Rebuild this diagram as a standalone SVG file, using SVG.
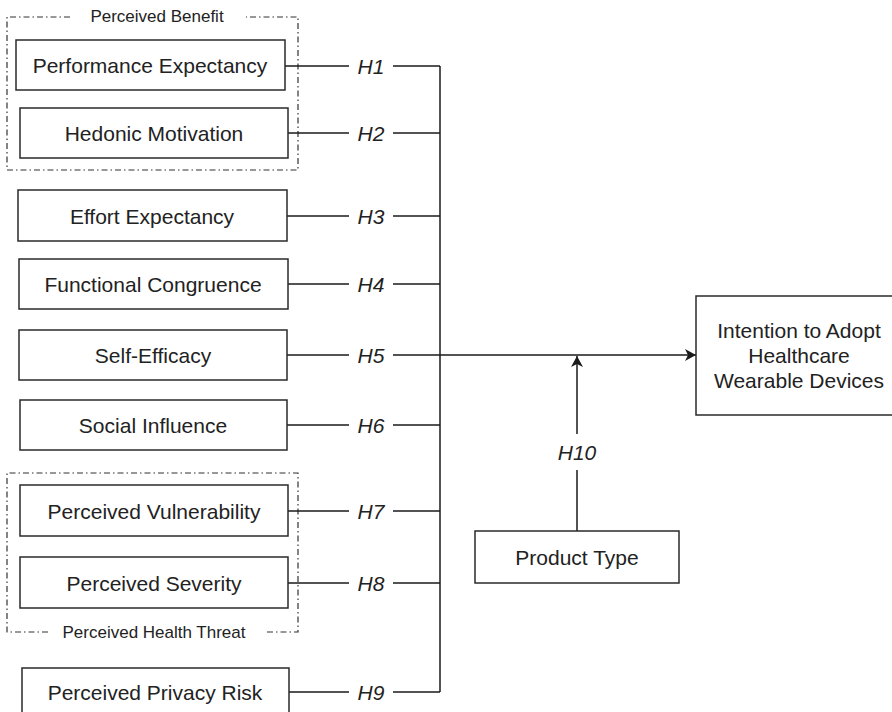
<svg xmlns="http://www.w3.org/2000/svg" width="892" height="712" viewBox="0 0 892 712">
<defs>
<style>
.box{fill:#fff;stroke:#2a2a2a;stroke-width:1.5}
.t{font-family:"Liberation Sans",Arial,sans-serif;font-size:21px;fill:#222;text-anchor:middle;dominant-baseline:central}
.h{font-family:"Liberation Sans",Arial,sans-serif;font-size:21px;font-style:italic;fill:#222;text-anchor:middle;dominant-baseline:central}
.g{font-family:"Liberation Sans",Arial,sans-serif;font-size:17px;fill:#222;text-anchor:middle;dominant-baseline:central}
.dd{fill:none;stroke:#333;stroke-width:1.2;stroke-dasharray:6 3 1.5 3}
.ln{fill:none;stroke:#1a1a1a;stroke-width:1.5}
</style>
<marker id="arr" viewBox="0 0 12 12" refX="11" refY="6" markerWidth="12" markerHeight="12" markerUnits="userSpaceOnUse" orient="auto">
<path d="M0,0 L11,6 L0,12 L3,6 Z" fill="#1a1a1a"/>
</marker>
</defs>
<rect width="892" height="712" fill="#fff"/>

<g id="group-benefit">
<path class="dd" d="M70,17 L7,17 L7,170 L298,170 L298,17 L246,17"/>
<text class="g" x="157" y="16">Perceived Benefit</text>
</g>
<g id="group-threat">
<path class="dd" d="M48,632 L7,632 L7,473 L298,473 L298,632 L267,632"/>
<text class="g" x="154" y="632">Perceived Health Threat</text>
</g>

<g id="connectors">
<line class="ln" x1="285" y1="66" x2="349" y2="66"/><line class="ln" x1="393" y1="66" x2="440" y2="66"/>
<line class="ln" x1="288" y1="133" x2="349" y2="133"/><line class="ln" x1="393" y1="133" x2="440" y2="133"/>
<line class="ln" x1="287" y1="216" x2="349" y2="216"/><line class="ln" x1="393" y1="216" x2="440" y2="216"/>
<line class="ln" x1="288" y1="284" x2="349" y2="284"/><line class="ln" x1="393" y1="284" x2="440" y2="284"/>
<line class="ln" x1="287" y1="355" x2="349" y2="355"/>
<line class="ln" x1="287" y1="425" x2="349" y2="425"/><line class="ln" x1="393" y1="425" x2="440" y2="425"/>
<line class="ln" x1="288" y1="511" x2="349" y2="511"/><line class="ln" x1="393" y1="511" x2="440" y2="511"/>
<line class="ln" x1="288" y1="583" x2="349" y2="583"/><line class="ln" x1="393" y1="583" x2="440" y2="583"/>
<line class="ln" x1="289" y1="692" x2="349" y2="692"/><line class="ln" x1="393" y1="692" x2="440" y2="692"/>
<line class="ln" x1="440" y1="66" x2="440" y2="692"/>
<line class="ln" x1="393" y1="355" x2="696" y2="355" marker-end="url(#arr)"/>
<line class="ln" x1="577" y1="531" x2="577" y2="470"/>
<line class="ln" x1="577" y1="434" x2="577" y2="356" marker-end="url(#arr)"/>
<text class="h" x="371" y="66">H1</text>
<text class="h" x="371" y="133">H2</text>
<text class="h" x="371" y="216">H3</text>
<text class="h" x="371" y="284">H4</text>
<text class="h" x="371" y="355">H5</text>
<text class="h" x="371" y="425">H6</text>
<text class="h" x="371" y="511">H7</text>
<text class="h" x="371" y="583">H8</text>
<text class="h" x="371" y="692">H9</text>
<text class="h" x="577" y="452">H10</text>
</g>

<g id="n1"><rect class="box" x="16" y="40" width="269" height="50"/><text class="t" x="150" y="65">Performance Expectancy</text></g>
<g id="n2"><rect class="box" x="20" y="108" width="268" height="50"/><text class="t" x="154" y="133">Hedonic Motivation</text></g>
<g id="n3"><rect class="box" x="18" y="190" width="269" height="51"/><text class="t" x="152" y="216">Effort Expectancy</text></g>
<g id="n4"><rect class="box" x="19" y="259" width="269" height="50"/><text class="t" x="153" y="284">Functional Congruence</text></g>
<g id="n5"><rect class="box" x="19" y="330" width="268" height="50"/><text class="t" x="153" y="355">Self-Efficacy</text></g>
<g id="n6"><rect class="box" x="20" y="400" width="267" height="50"/><text class="t" x="153" y="425">Social Influence</text></g>
<g id="n7"><rect class="box" x="20" y="485" width="268" height="51"/><text class="t" x="154" y="511">Perceived Vulnerability</text></g>
<g id="n8"><rect class="box" x="20" y="557" width="268" height="51"/><text class="t" x="154" y="583">Perceived Severity</text></g>
<g id="n9"><rect class="box" x="22" y="668" width="267" height="50"/><text class="t" x="155" y="692">Perceived Privacy Risk</text></g>
<g id="n10"><rect class="box" x="696" y="296" width="200" height="119"/><text class="t" x="799" y="330">Intention to Adopt</text><text class="t" x="799" y="355">Healthcare</text><text class="t" x="799" y="380">Wearable Devices</text></g>
<g id="n11"><rect class="box" x="475" y="531" width="204" height="52"/><text class="t" x="577" y="557">Product Type</text></g>
</svg>
